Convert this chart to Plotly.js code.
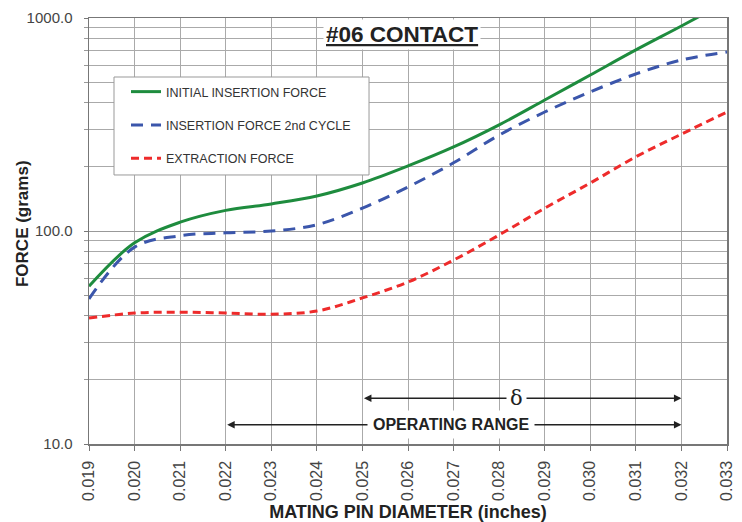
<!DOCTYPE html>
<html>
<head>
<meta charset="utf-8">
<script src="https://cdn.plot.ly/plotly-3.0.1.min.js"></script>
<style>html,body{margin:0;padding:0;background:#fff}#chart{width:742px;height:522px}</style>
</head>
<body>
<div id="chart"></div>
<script>
const diameters = [0.019,0.020,0.021,0.022,0.023,0.024,0.025,0.026,0.027,0.028,0.029,0.030,0.031,0.032,0.033];
const initialInsertion = [55,88,110,125,134,146,168,202,248,315,412,540,708,917,1195];
const insertion2nd = [48,84,95,98,100,107,128,161,209,282,362,450,546,635,692];
const extraction = [39,41.2,41.6,41.2,40.7,42.1,48.5,57.6,73,95.8,128,168,223,285,362];
const xTickLabels = ["0.019","0.020","0.021","0.022","0.023","0.024","0.025","0.026","0.027","0.028","0.029","0.030","0.031","0.032","0.033"];
const yTickVals = [10,100,1000];
const yTickLabels = ["10.0","100.0","1000.0"];
const yMinorVals = [20,30,40,50,60,70,80,90,200,300,400,500,600,700,800,900];
const seriesNames = ["INITIAL INSERTION FORCE","INSERTION FORCE 2nd CYCLE","EXTRACTION FORCE"];
const deltaRange = [0.025,0.032];
const operatingRange = [0.022,0.032];

const sans = '"Liberation Sans", Arial, sans-serif';

const traces = [
  {x: diameters, y: initialInsertion, name: seriesNames[0], mode:'lines', line:{color:'#1e8c3e', width:3, shape:'spline', smoothing:1}, legendgroup:'a'},
  {x: diameters, y: insertion2nd, name: seriesNames[1], mode:'lines', line:{color:'#3b56ab', width:3, dash:'12px,8px', shape:'spline', smoothing:1}, legendgroup:'b'},
  {x: diameters, y: extraction, name: seriesNames[2], mode:'lines', line:{color:'#ee2b2b', width:3, dash:'8px,5px', shape:'spline', smoothing:1}, legendgroup:'c'}
];

const L = v => Math.log10(v);
const arrowStyle = {showarrow:true, arrowhead:2, startarrowhead:2, arrowside:'end+start', arrowwidth:1.5, arrowsize:1, startarrowsize:1, arrowcolor:'#222', text:'', axref:'x', ayref:'y', xref:'x', yref:'y'};

const layout = {
  width:742, height:522,
  margin:{l:89, r:15, t:18, b:78},
  paper_bgcolor:'#fff', plot_bgcolor:'#fff',
  font:{family:sans, color:'#333'},
  showlegend:true,
  legend:{x:0.058, y:0.8615, xanchor:'left', yanchor:'top', bgcolor:'rgba(0,0,0,0)', borderwidth:0,
          font:{family:sans, size:12.5, color:'#333'}, tracegroupgap:14, traceorder:'grouped'},
  shapes:[
    {type:'rect', xref:'paper', yref:'paper', x0:0.0392, x1:0.4389, y0:0.6315, y1:0.8615,
     line:{color:'#999', width:1}, fillcolor:'#fff', layer:'above'}
  ],
  xaxis:{type:'linear', range:[0.019,0.033], tickvals:diameters, ticktext:xTickLabels, tickangle:-90,
         showgrid:true, gridcolor:'#aaa', gridwidth:1, zeroline:false,
         showline:true, linecolor:'#777', linewidth:1.5, mirror:true,
         ticks:'outside', ticklen:5, tickcolor:'#777', ticklabelstandoff:4,
         tickfont:{family:sans, size:16, color:'#444'},
         title:{text:'<b>MATING PIN DIAMETER (inches)</b>', font:{family:sans, size:18, color:'#222'}, standoff:6}},
  yaxis:{type:'log', range:[1,3], tickvals:yTickVals, ticktext:yTickLabels,
         showgrid:true, gridcolor:'#999', gridwidth:1, zeroline:false,
         showline:true, linecolor:'#777', linewidth:1.5, mirror:true,
         ticks:'outside', ticklen:4, tickcolor:'#777', ticklabelstandoff:8,
         tickfont:{family:sans, size:15, color:'#444'},
         minor:{tickvals:yMinorVals, showgrid:true, gridcolor:'#aaa', gridwidth:1, ticks:'outside', ticklen:4, tickcolor:'#999'}},
  annotations:[
    {xref:'paper', yref:'paper', x:-0.105, y:0.5164, xanchor:'center', yanchor:'middle', textangle:-90, showarrow:false,
     text:'<b>FORCE (grams)</b>', font:{family:sans, size:17, color:'#222'}},
    {xref:'paper', yref:'paper', x:0.4905, y:0.962, xanchor:'center', yanchor:'middle', showarrow:false,
     text:'<b><u>#06 CONTACT</u></b>', font:{family:sans, size:22.5, color:'#222'}, bgcolor:'#fff', borderpad:2},
    Object.assign({}, arrowStyle, {x:deltaRange[1], y:L(16.4), ax:deltaRange[0], ay:L(16.4)}),
    {xref:'x', yref:'y', x:0.02838, y:L(16.4), showarrow:false, text:'δ', font:{family:'"DejaVu Serif", serif', size:21, color:'#222'}, bgcolor:'#fff', borderpad:3},
    Object.assign({}, arrowStyle, {x:operatingRange[1], y:L(12.3), ax:operatingRange[0], ay:L(12.3)}),
    {xref:'x', yref:'y', x:0.02695, y:L(12.3), showarrow:false, text:'<b>OPERATING RANGE</b>', font:{family:sans, size:16, color:'#222'}, bgcolor:'#fff', borderpad:5}
  ]
};

Plotly.newPlot('chart', traces, layout, {staticPlot:true, displayModeBar:false});
</script>
</body>
</html>
